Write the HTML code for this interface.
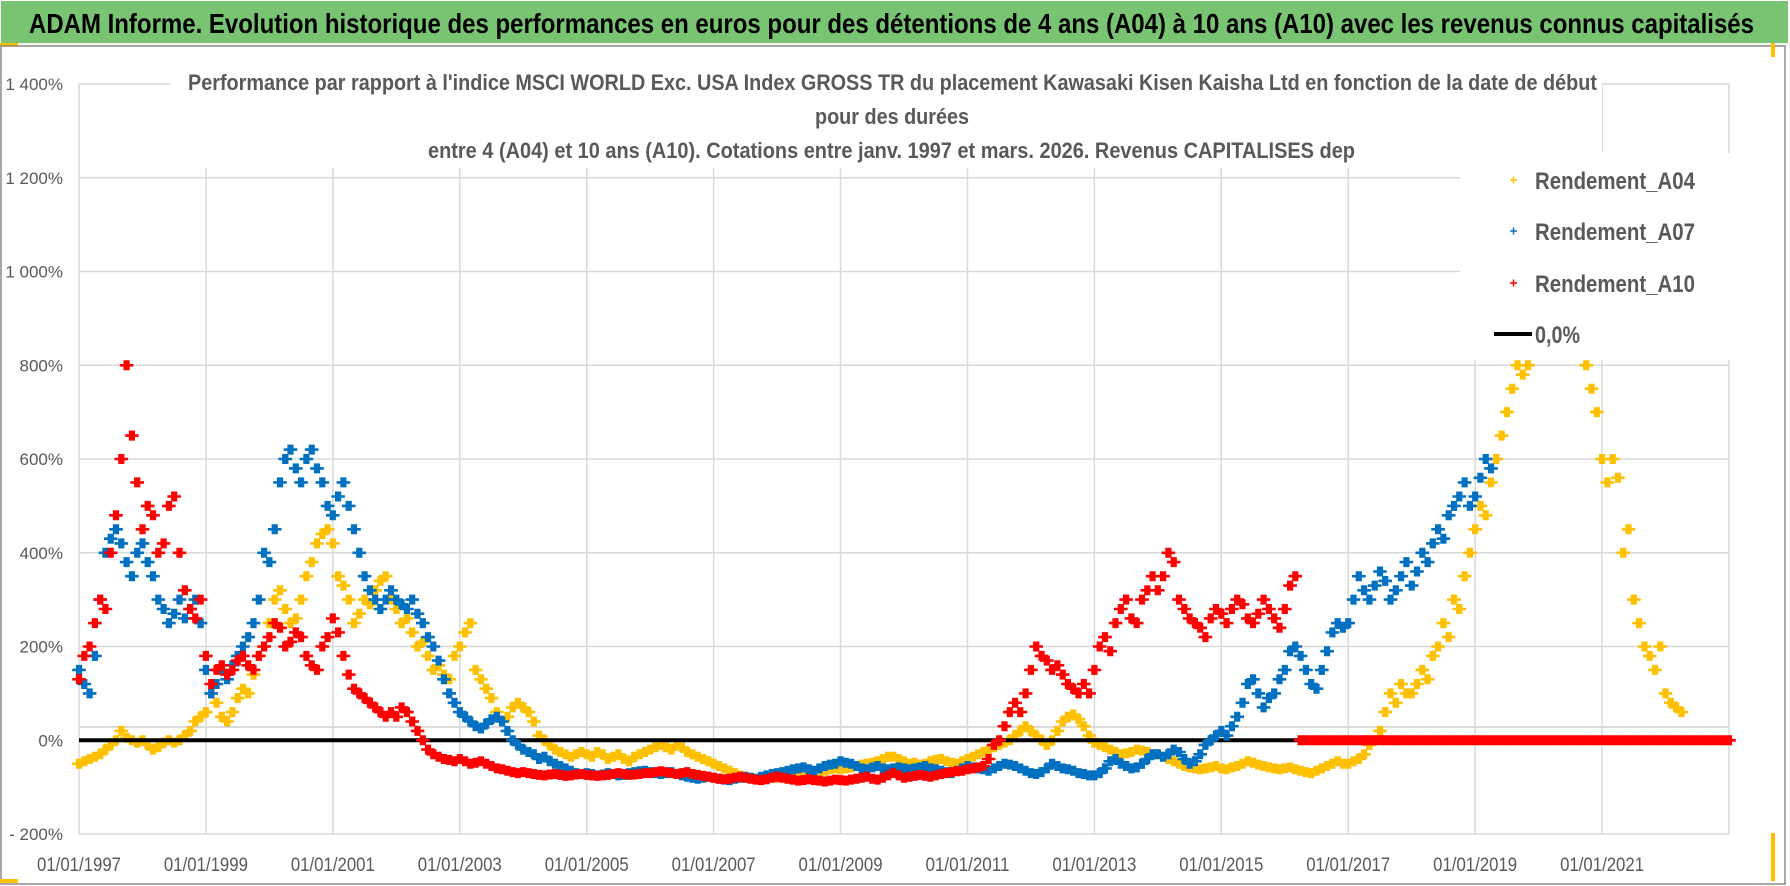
<!DOCTYPE html>
<html><head><meta charset="utf-8"><style>
html,body{margin:0;padding:0;background:#fff;}
svg{display:block;font-family:"Liberation Sans Narrow","Liberation Sans",sans-serif;}
</style></head><body>
<svg id="chart" width="1790" height="886" viewBox="0 0 1790 886" xmlns="http://www.w3.org/2000/svg">
<rect x="0" y="0" width="1790" height="886" fill="#fff"/>
<rect x="1" y="1" width="1787" height="42" fill="#79C473"/>
<rect x="0" y="43" width="1790" height="3" fill="#f2f2f2"/>
<rect x="0" y="43" width="18" height="4" fill="#FFC000"/>
<text x="29" y="33" font-size="28" font-weight="bold" fill="#000" textLength="1725" lengthAdjust="spacingAndGlyphs">ADAM Informe. Evolution historique des performances en euros pour des détentions de 4 ans (A04) à 10 ans (A10) avec les revenus connus capitalisés</text>
<rect x="1" y="46" width="1784" height="838" fill="none" stroke="#8c8c8c" stroke-width="1.5"/>
<rect x="1771" y="43" width="4" height="14" fill="#FFC000"/>
<rect x="1771" y="833" width="4" height="48" fill="#FFC000"/>
<rect x="0" y="879" width="18" height="4" fill="#FFC000"/>
<g id="grid"></g>
<g id="series"></g>
<rect x="170" y="62" width="1432" height="106" fill="#fff"/>
<g fill="#595959" font-weight="bold" font-size="22">
<text x="188" y="90" textLength="1409" lengthAdjust="spacingAndGlyphs">Performance par rapport à l'indice MSCI WORLD Exc. USA Index GROSS TR  du placement Kawasaki Kisen Kaisha Ltd en fonction de la date de début</text>
<text x="815" y="124" textLength="154" lengthAdjust="spacingAndGlyphs">pour des durées</text>
<text x="428" y="158" textLength="927" lengthAdjust="spacingAndGlyphs">entre 4 (A04) et 10 ans (A10). Cotations entre janv. 1997 et mars. 2026. Revenus CAPITALISES dep</text>
</g>
<rect x="1460" y="153" width="270" height="207" fill="#fff"/>
<g font-size="24" fill="#595959" font-weight="bold">
<g><path d="M1510 180h7M1513.5 176.5v7" stroke="#FFC000" stroke-width="1.5"/><text x="1535" y="189" textLength="160" lengthAdjust="spacingAndGlyphs">Rendement_A04</text></g>
<g><path d="M1510 231h7M1513.5 227.5v7" stroke="#0070C0" stroke-width="1.5"/><text x="1535" y="240" textLength="160" lengthAdjust="spacingAndGlyphs">Rendement_A07</text></g>
<g><path d="M1510 283h7M1513.5 279.5v7" stroke="#FF0000" stroke-width="1.5"/><text x="1535" y="292" textLength="160" lengthAdjust="spacingAndGlyphs">Rendement_A10</text></g>
<g><path d="M1494 334h38" stroke="#000" stroke-width="4"/><text x="1535" y="343" textLength="45" lengthAdjust="spacingAndGlyphs">0,0%</text></g>
</g>
</svg>
<script>
const yTicks = [-200, 0, 200, 400, 600, 800, 1000, 1200, 1400];
const yTickLabels = ["- 200%", "0%", "200%", "400%", "600%", "800%", "1 000%", "1 200%", "1 400%"];
const xTicks = [1997, 1999, 2001, 2003, 2005, 2007, 2009, 2011, 2013, 2015, 2017, 2019, 2021];
const xTickLabels = ["01/01/1997","01/01/1999","01/01/2001","01/01/2003","01/01/2005","01/01/2007","01/01/2009","01/01/2011","01/01/2013","01/01/2015","01/01/2017","01/01/2019","01/01/2021"];
const a04Start = 1997;
const a04 = [
-50,-45,-40,-35,-30,-20,-10,0,20,5,0,-5,
0,-10,-20,-15,-5,0,-5,0,10,20,40,50,
60,100,80,50,40,60,90,110,100,140,180,200,
250,300,320,280,250,260,300,350,380,420,440,450,
420,350,330,300,250,270,300,290,320,340,350,300,
280,250,260,230,200,210,180,150,160,140,130,180,
200,230,250,150,130,110,90,60,40,50,70,80,
70,60,40,10,0,-10,-20,-25,-30,-35,-30,-25,
-30,-35,-25,-30,-40,-35,-30,-40,-45,-35,-30,-25,
-20,-15,-10,-15,-20,-10,-15,-25,-30,-35,-40,-45,
-50,-55,-60,-65,-70,-75,-78,-80,-82,-80,-78,-75,
-80,-78,-75,-72,-70,-75,-72,-70,-68,-65,-62,-60,
-62,-60,-58,-55,-52,-50,-48,-45,-40,-35,-35,-40,
-45,-50,-48,-52,-50,-45,-42,-40,-45,-48,-50,-45,
-40,-35,-30,-25,-20,-15,-10,-5,0,10,20,30,
20,10,0,-10,0,20,40,50,55,45,30,10,
-5,-10,-15,-20,-25,-30,-28,-25,-20,-22,-25,-30,
-30,-35,-40,-45,-50,-55,-58,-60,-62,-60,-58,-55,
-60,-62,-58,-55,-50,-45,-48,-52,-55,-58,-60,-62,
-60,-58,-62,-65,-68,-70,-65,-60,-55,-50,-45,-50,
-50,-45,-40,-30,-10,0,20,60,100,80,120,100,
100,120,150,130,180,200,250,220,300,280,350,400,
450,500,480,550,600,650,700,750,800,780,800,null,
null,null,null,null,null,null,null,null,null,800,750,700,
600,550,600,560,400,450,300,250,200,180,150,200,
100,80,70,60];
const a07Start = 1997;
const a07 = [
150,120,100,180,300,400,430,450,420,380,350,400,
420,380,350,300,280,250,270,300,260,280,300,250,
150,100,120,150,130,160,180,200,220,250,300,400,
380,450,550,600,620,580,550,600,620,580,550,500,
480,520,550,500,450,400,350,320,300,280,300,320,
300,290,280,300,270,250,220,200,170,130,100,80,
60,50,40,30,25,35,45,50,40,20,0,-10,
-20,-25,-30,-40,-35,-45,-50,-55,-60,-65,-70,-72,
-70,-72,-75,-73,-70,-72,-75,-74,-70,-68,-66,-65,
-68,-70,-72,-70,-68,-72,-75,-78,-80,-82,-80,-78,
-80,-82,-84,-85,-82,-80,-78,-80,-82,-78,-75,-72,
-70,-68,-65,-62,-60,-58,-62,-65,-60,-55,-52,-50,
-45,-48,-50,-55,-60,-62,-58,-55,-60,-62,-60,-58,
-60,-62,-60,-58,-55,-60,-62,-65,-68,-70,-65,-60,
-55,-58,-60,-62,-65,-60,-55,-50,-52,-55,-60,-65,
-70,-72,-68,-60,-50,-55,-60,-62,-65,-70,-72,-75,
-75,-70,-60,-45,-40,-50,-55,-60,-58,-50,-40,-30,
-30,-35,-30,-20,-25,-40,-50,-45,-30,-10,0,10,
20,10,30,50,80,120,130,100,70,90,100,130,
150,190,200,180,150,120,110,150,190,230,250,240,
250,300,350,320,300,330,360,340,300,320,350,380,
330,360,400,380,420,450,430,480,500,520,550,500,
520,560,600,580];
const a10Start = 1997;
const a10 = [
130,180,200,250,300,280,400,480,600,800,650,550,
450,500,480,400,420,500,520,400,320,280,260,300,
180,120,150,160,140,150,170,180,160,150,180,200,
220,250,240,200,210,230,220,180,160,150,200,220,
260,230,180,140,110,100,90,80,70,60,50,60,
50,70,60,40,20,0,-20,-30,-35,-40,-42,-45,
-40,-45,-50,-48,-45,-50,-55,-60,-62,-65,-68,-70,
-68,-70,-72,-74,-75,-73,-72,-74,-76,-75,-73,-72,
-74,-75,-76,-75,-74,-72,-70,-72,-74,-73,-72,-70,
-70,-68,-66,-68,-70,-72,-70,-68,-72,-74,-76,-78,
-80,-82,-83,-82,-80,-78,-80,-82,-84,-85,-83,-80,
-78,-80,-82,-84,-86,-85,-83,-85,-86,-88,-86,-84,
-85,-86,-84,-82,-80,-78,-82,-84,-80,-75,-70,-75,
-80,-78,-76,-74,-76,-78,-75,-72,-70,-68,-66,-65,
-62,-60,-58,-55,-40,-10,0,30,60,80,60,100,
150,200,180,170,150,160,140,120,110,100,120,100,
150,200,220,190,250,280,300,260,250,300,320,350,
320,350,400,380,300,280,260,250,240,220,260,280,
270,250,280,300,290,260,250,270,300,280,260,240,
280,330,350,
0,0,0,0,0,0,0,0,0,
0,0,0,0,0,0,0,0,0,0,0,0,
0,0,0,0,0,0,0,0,0,0,0,0,
0,0,0,0,0,0,0,0,0,0,0,0,
0,0,0,0,0,0,0,0,0,0,0,0,
0,0,0,0,0,0,0,0,0,0,0,0,
0,0,0,0,0,0,0,0,0,0,0,0,0];

const NS = "http://www.w3.org/2000/svg";
const X0 = 79, X1 = 1729, XMIN = 1997, XMAX = 2023;
const Y0 = 834, Y1 = 84, YMIN = -200, YMAX = 1400;
function xScale(t){ return X0 + (t - XMIN) / (XMAX - XMIN) * (X1 - X0); }
function yScale(v){ return Y0 - (v - YMIN) / (YMAX - YMIN) * (Y0 - Y1); }
function mk(tag, attrs, parent){
  const e = document.createElementNS(NS, tag);
  for (const k in attrs) e.setAttribute(k, attrs[k]);
  parent.appendChild(e); return e;
}
const grid = document.getElementById('grid');
yTicks.forEach((v, i) => {
  const y = yScale(v);
  const l = mk('line', {x1: X0, x2: X1, y1: y, y2: y, stroke: '#d9d9d9', 'stroke-width': 1.5}, grid);
  
  
  const t = mk('text', {x: 63, y: y + 6, 'text-anchor': 'end', 'font-size': 17, fill: '#595959'}, grid);
  t.textContent = yTickLabels[i];
  
  
});
const ref = mk('line', {x1: X0, x2: X1, y1: 727, y2: 727, stroke: '#cfcfcf', 'stroke-width': 1.5}, grid);


xTicks.forEach((t, i) => {
  const x = xScale(t);
  const l = mk('line', {x1: x, x2: x, y1: Y1, y2: Y0, stroke: '#d9d9d9', 'stroke-width': 1.5}, grid);
  
  
  const tx = mk('text', {x: x, y: 871, 'text-anchor': 'middle', 'font-size': 19, fill: '#595959', textLength: 84, lengthAdjust: 'spacingAndGlyphs'}, grid);
  tx.textContent = xTickLabels[i];
  
  
});
const xr = mk('line', {x1: X1, x2: X1, y1: Y1, y2: Y0, stroke: '#d9d9d9', 'stroke-width': 1.5}, grid);



const ser = document.getElementById('series');
function drawSeries(vals, start, color, name){
  const g = mk('g', {stroke: color, 'stroke-width': 2.6, fill: 'none'}, ser);
  
  
  vals.forEach((v, i) => {
    if (v === null) return;
    const x = xScale(start + i / 12), y = yScale(v);
    let d = '';
    [-1.8, 0, 1.8].forEach(dx => {
      const cx = x + dx;
      d += `M${(cx-5).toFixed(1)} ${y.toFixed(1)}h10M${cx.toFixed(1)} ${(y-5).toFixed(1)}v10`;
    });
    const p = mk('path', {d: d}, g);
    
    
  });
}
drawSeries(a04, a04Start, '#FFC000', 'series-a04');
const zl = mk('line', {x1: X0, x2: X1, y1: yScale(0), y2: yScale(0), stroke: '#000', 'stroke-width': 4}, ser);


drawSeries(a07, a07Start, '#0070C0', 'series-a07');
drawSeries(a10, a10Start, '#FF0000', 'series-a10');
</script>
</body></html>
